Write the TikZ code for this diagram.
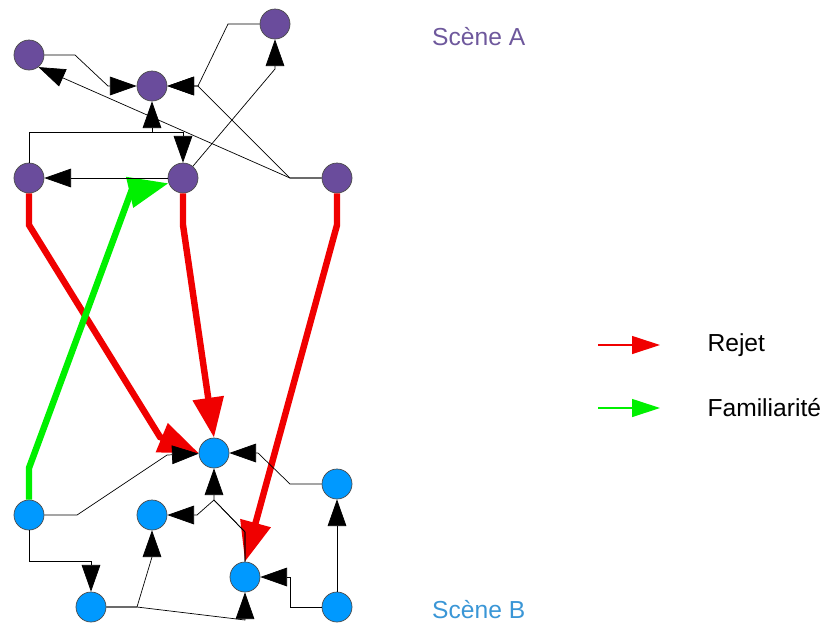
\documentclass[tikz,border=0pt]{standalone}
\usepackage{fontspec}
\setmainfont{Liberation Sans}
\usepackage{tikz}
\usetikzlibrary{positioning,arrows.meta}
\usepackage{xcolor}
\definecolor{sceneApurple}{RGB}{106,76,156}
\definecolor{sceneBblue}{RGB}{0,153,255}
\definecolor{titleA}{RGB}{110,88,156}
\definecolor{titleB}{RGB}{58,150,214}
\definecolor{rejetred}{RGB}{240,0,0}
\definecolor{familgreen}{RGB}{0,240,0}

\begin{document}
\begin{tikzpicture}[%
    x=0.03cm,
    y=-0.03cm,
    >={Triangle[length=0.8cm,width=0.56cm]},
    nodeA/.style={%
      circle,
      minimum size=0.9cm,
      inner sep=0pt,
      fill=sceneApurple,
      draw=black!70,
      line width=0.6pt
    },
    nodeB/.style={%
      nodeA,
      fill=sceneBblue
    },
    link/.style={%
      ->,
      draw=black,
      line width=0.6pt
    },
    rejet/.style={%
      -{Triangle[length=1.2cm,width=0.9cm]},
      draw=rejetred,
      line width=5.5pt
    },
    famil/.style={%
      rejet,
      draw=familgreen
    },
    keyarrow/.style={%
      -{Triangle[length=0.84cm,width=0.54cm]},
      line width=1pt
    },
    legtext/.style={%
      inner sep=0pt,
      anchor=west,
      font=\fontsize{21}{25}\selectfont
    }
  ]
    \useasboundingbox (0,0) rectangle (828,630);

    % scene A
    \node[nodeA] (a1) at (29,55)   {};
    \node[nodeA] (a2) at (152,86)  {};
    \node[nodeA] (a3) at (275,24)  {};
    \node[nodeA] (a4) at (29,178)  {};
    \node[nodeA] (a5) at (183,178) {};
    \node[nodeA] (a6) at (337,178) {};

    % scene B
    \node[nodeB] (b1) at (29,515)  {};
    \node[nodeB] (b2) at (214,453) {};
    \node[nodeB] (b3) at (337,484) {};
    \node[nodeB] (b4) at (152,515) {};
    \node[nodeB] (b5) at (245,577) {};
    \node[nodeB] (b6) at (91,607)  {};
    \node[nodeB] (b7) at (337,607) {};

    % rejet / familiarite
    \draw[rejet] (a4.south) -- (29,225) -- (160,437) -- (b2.west);
    \draw[rejet] (a5.south) -- (183,225) -- (b2.north);
    \draw[rejet] (a6.south) -- (337,225) -- (b5.north);
    \draw[famil] (b1.north) -- (29,468) -- (131,192) -- (a5.200);

    % links in scene A
    \draw[link] (a1) -- (75,55) -- (108,86) -- (a2);
    \draw[link] (a3) -- (228,24) -- (198,86) -- (a2);
    \draw[link] (a6) -- (290,178) -- (198,86) -- (a2);
    \draw[link] (a6) -- (290,178) -- (a1.-52);
    \draw[link] (a4.north) |- (152,132) -- (a2.south);
    \draw[link] (a4.north) |- (183,132) -- (a5.north);
    \draw[link] (a5) -- (a4);
    \draw[link] (a5) -- (275,69) -- (a3.south);

    % links in scene B
    \draw[link] (b1) -- (77,515) -- (167,455) -- (b2);
    \draw[link] (b3) -- (290,484) -- (258,453) -- (b2);
    \draw[link] (b1.south) |- (91,561) -- (b6.north);
    \draw[link] (b6) -- (137,607) -- (152,557) -- (b4.south);
    \draw[link] (b6) -- (137,607) -- (245,620) -- (b5.south);
    \draw[link] (b7) -- (290,607) -- (290,577) -- (b5);
    \draw[link] (b7) -- (b3);
    \draw[link] (b5.north) -- (245,532) -- (214,500) -- (b2.south);
    \draw[link] (b5.north) -- (245,532) -- (214,500) -- (197,515) -- (b4);

    % titles
    \node[legtext, text=titleA] (sa) at (432,37)  {Scène A};
    \node[legtext, text=titleB] (sb) at (432,610) {Scène B};

    % legend
    \coordinate (rs) at (598,345);
    \coordinate (re) at (660,345);
    \coordinate (fs) at (598,408);
    \coordinate (fe) at (660,408);
    \draw[keyarrow, draw=rejetred] (rs) -- (re);
    \draw[keyarrow, draw=familgreen] (fs) -- (fe);
    \node[legtext, right=1.42cm of re] (rj) {Rejet};
    \node[legtext, right=1.42cm of fe] (fm) {Familiarité};
  \end{tikzpicture}
\end{document}
